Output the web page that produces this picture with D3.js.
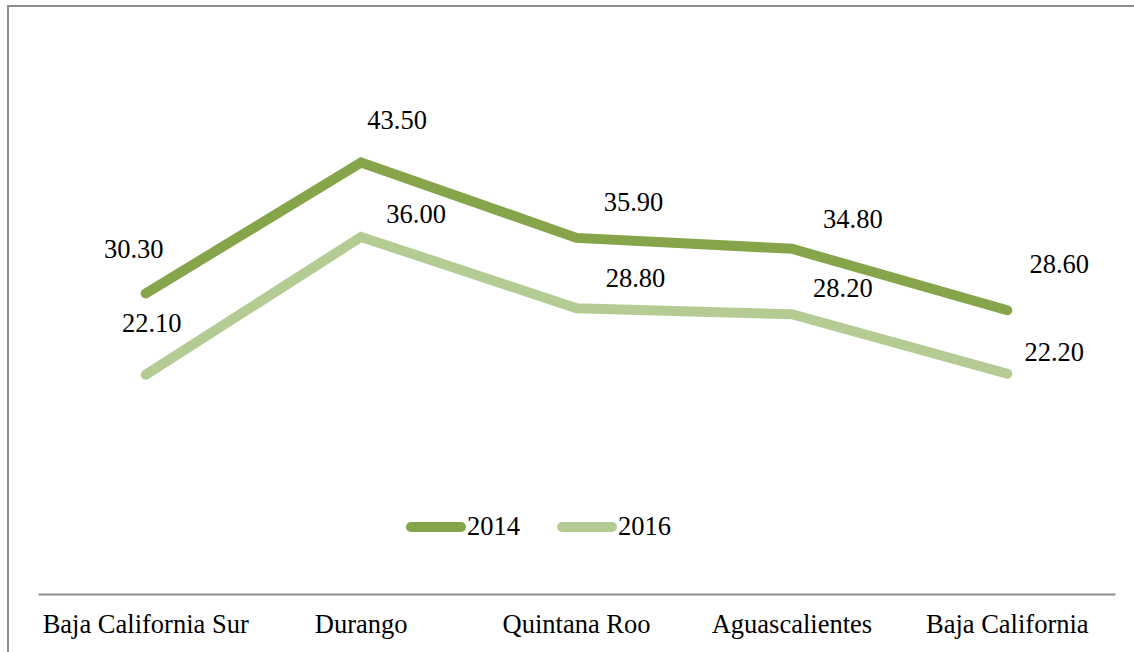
<!DOCTYPE html>
<html>
<head>
    <meta charset="utf-8">
    <script src="https://cdn.jsdelivr.net/npm/d3@7"></script>
    <style>
        * { margin: 0; padding: 0; }
        body { background: #fff; width: 1134px; height: 652px; overflow: hidden; }
        svg text { font-family: "Liberation Serif", Tinos, "Times New Roman", Times, "DejaVu Serif", serif; font-size: 26.5px; fill: #000; }
    </style>
</head>
<body>
    <div id="chart"></div>
    <script>
        // data
        var categories = ["Baja California Sur", "Durango", "Quintana Roo", "Aguascalientes", "Baja California"];
        var seriesNames = ["2014", "2016"];
        var values2014 = [30.3, 43.5, 35.9, 34.8, 28.6];
        var values2016 = [22.1, 36.0, 28.8, 28.2, 22.2];

        // label nudges (layout only), [dx, dy] from the point
        var labelShift2014 = [[-12, -35], [36, -33], [57, -27], [61, -21], [52, -37]];
        var labelShift2016 = [[6, -43], [55, -14], [59, -21], [51, -17], [47, -13]];

        var colors = ["#86a54a", "#b4cc94"];
        var W = 1134, H = 652;
        var serif = "'Liberation Serif', Tinos, 'Times New Roman', Times, 'DejaVu Serif', serif";

        var svg = d3.select("#chart").append("svg")
            .attr("width", W)
            .attr("height", H);

        // outer frame (right and bottom sit outside the picture)
        svg.append("rect")
            .attr("x", 8).attr("y", 6)
            .attr("width", 1140).attr("height", 670)
            .attr("fill", "none")
            .attr("stroke", "#8e8e8e")
            .attr("stroke-width", 2);

        var xScale = d3.scaleBand()
            .domain(categories)
            .range([38, 1115]);

        var yScale = d3.scaleLinear()
            .domain([0, 50])
            .range([594, 98]);

        // category axis
        var xAxis = svg.append("g")
            .attr("transform", "translate(0,594)")
            .call(d3.axisBottom(xScale).tickSize(0).tickPadding(39));
        xAxis.attr("font-family", null).attr("font-size", null);
        xAxis.select(".domain").attr("stroke", "#8e8e8e").attr("stroke-width", 2);
        xAxis.selectAll("text")
            .attr("dy", 0)
            .attr("font-family", serif)
            .attr("font-size", "26.5px")
            .attr("fill", "#000");

        var line = d3.line()
            .x(function (d, i) { return xScale(categories[i]) + xScale.bandwidth() / 2; })
            .y(function (d) { return yScale(d); });

        var allSeries = [
            { name: seriesNames[0], values: values2014, shift: labelShift2014 },
            { name: seriesNames[1], values: values2016, shift: labelShift2016 }
        ];

        // draw lighter series first so the darker one sits on top
        allSeries.slice().reverse().forEach(function (s) {
            var i = seriesNames.indexOf(s.name);
            svg.append("path")
                .datum(s.values)
                .attr("d", line)
                .attr("fill", "none")
                .attr("stroke", colors[i])
                .attr("stroke-width", 10)
                .attr("stroke-linecap", "round")
                .attr("stroke-linejoin", "miter");
        });

        allSeries.forEach(function (s) {
            svg.selectAll(null)
                .data(s.values)
                .enter()
                .append("text")
                .attr("x", function (d, j) { return xScale(categories[j]) + xScale.bandwidth() / 2 + s.shift[j][0]; })
                .attr("y", function (d, j) { return yScale(d) + s.shift[j][1]; })
                .attr("text-anchor", "middle")
                .attr("font-family", serif)
                .text(function (d) { return d.toFixed(2); });
        });

        // legend
        var legend = svg.append("g").attr("transform", "translate(406,527)");
        var legendX = [0, 151];
        seriesNames.forEach(function (name, i) {
            var g = legend.append("g").attr("transform", "translate(" + legendX[i] + ",0)");
            g.append("line")
                .attr("x1", 5).attr("x2", 55)
                .attr("y1", 0).attr("y2", 0)
                .attr("stroke", colors[i])
                .attr("stroke-width", 10)
                .attr("stroke-linecap", "round");
            g.append("text")
                .attr("x", 61)
                .attr("y", 8)
                .attr("font-family", serif)
                .text(name);
        });
    </script>
</body>
</html>
